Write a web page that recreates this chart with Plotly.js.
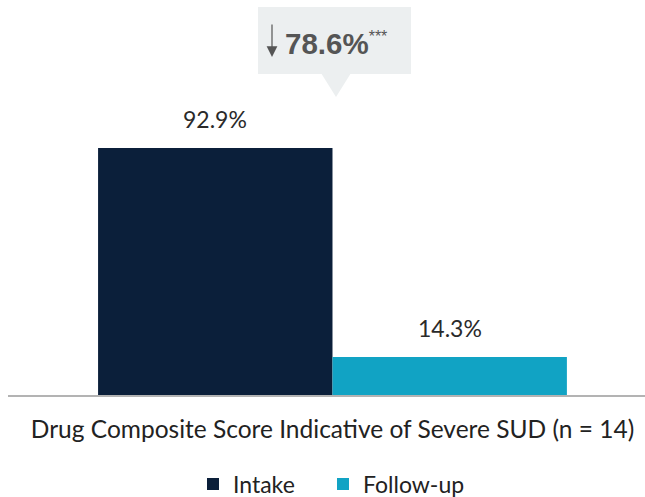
<!DOCTYPE html>
<html>
<head>
<meta charset="utf-8">
<script src="https://cdn.plot.ly/plotly-3.0.1.min.js"></script>
<style>html,body{margin:0;padding:0;background:#fff;}#chart{width:645px;height:497px;}</style>
</head>
<body>
<div id="chart"></div>
<script>
const categories = ["Drug Composite Score Indicative of Severe SUD (n = 14)"];
const seriesNames = ["Intake", "Follow-up"];
const intakeValues = [92.9];
const followupValues = [14.3];
const changeLabel = "78.6%";
const significance = "***";

const colors = ["#0b1f3a", "#11a3c4"];
const FONT = "Lato, 'Open Sans', sans-serif";

// pixel -> paper helpers (plot area: x 8..645, y 129..395)
const L = 8, W = 637, B = 395, H = 266;
const BARGAP = 0.264;
const px = x => (x - L) / W;
const py = y => (B - y) / H;
const halfBar = W * (1 - BARGAP) / 4;

const mk = (name, vals, color, legendId) => ({
  type: "bar", name: name, x: categories, y: vals,
  marker: {color: color},
  legend: legendId,
  hoverinfo: "skip"
});

const data = [
  mk(seriesNames[0], intakeValues, colors[0], "legend"),
  mk(seriesNames[1], followupValues, colors[1], "legend2")
];

const valueLabels = [];
[intakeValues, followupValues].forEach((vals, i) => {
  vals.forEach((v, j) => {
    valueLabels.push({
      xref: "x", yref: "y", x: categories[j], y: v,
      xshift: (i === 0 ? -1 : 1) * halfBar, yshift: 13,
      yanchor: "bottom", showarrow: false,
      text: v.toFixed(1) + "%",
      font: {family: FONT, size: 23, color: "#2a2a2a"}
    });
  });
});

const legendBase = {orientation: "h", xanchor: "left", y: py(484), yanchor: "middle",
  font: {family: FONT, size: 23, color: "#222222"}, itemwidth: 30, borderwidth: 0,
  bgcolor: "rgba(0,0,0,0)"};

const layout = {
  width: 645, height: 497,
  margin: {l: L, r: 0, t: 129, b: 102, autoexpand: false},
  paper_bgcolor: "#ffffff", plot_bgcolor: "#ffffff",
  font: {family: FONT, color: "#222222", size: 23},
  barmode: "group",
  bargap: BARGAP, bargroupgap: 0,
  showlegend: true,
  legend: Object.assign({}, legendBase, {x: px(193)}),
  legend2: Object.assign({}, legendBase, {x: px(323)}),
  xaxis: {type: "category", range: [-0.5094, 0.4906], showline: true, linecolor: "#b3b3b3",
          linewidth: 2, ticks: "", showgrid: false, zeroline: false, automargin: false,
          ticklabelstandoff: 12,
          tickfont: {family: FONT, size: 24.5, color: "#222222"}, fixedrange: true},
  yaxis: {range: [0, 100], visible: false, fixedrange: true},
  shapes: [
    {type: "rect", xref: "paper", yref: "paper", x0: px(258), x1: px(411), y0: py(74), y1: py(7),
     fillcolor: "#eceff0", line: {width: 0}, layer: "above"},
    {type: "path", xref: "paper", yref: "paper",
     path: "M " + px(321) + " " + py(73) + " L " + px(351) + " " + py(73) + " L " + px(336) + " " + py(97) + " Z",
     fillcolor: "#eceff0", line: {width: 0}, layer: "above"}
  ],
  annotations: valueLabels.concat([
    {xref: "paper", yref: "paper", x: px(272), y: py(57), ax: 0, ay: -34,
     showarrow: true, arrowhead: 2, arrowsize: 1.8, arrowwidth: 1.2, arrowcolor: "#555555", text: ""},
    {xref: "paper", yref: "paper", x: px(283), y: py(43), xanchor: "left", yanchor: "middle",
     showarrow: false,
     text: "<b>" + changeLabel + "</b><sup><span style='font-size:16px'>" + significance + "</span></sup>",
     font: {family: "'Liberation Sans', Arial, sans-serif", size: 29.5, color: "#555555"}}
  ])
};

Plotly.newPlot("chart", data, layout, {displayModeBar: false, staticPlot: true});
</script>
</body>
</html>
